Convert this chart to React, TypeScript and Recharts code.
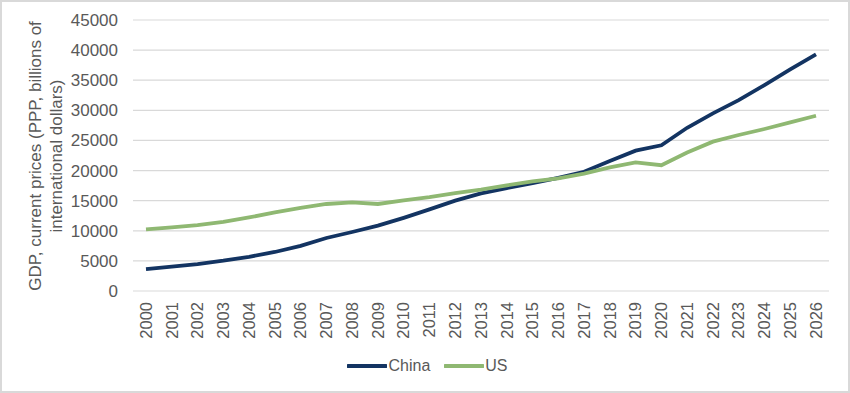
import React from "react";
import { LineChart, Line, XAxis, YAxis, CartesianGrid, Legend } from "recharts";

const years = ["2000","2001","2002","2003","2004","2005","2006","2007","2008","2009","2010","2011","2012","2013","2014","2015","2016","2017","2018","2019","2020","2021","2022","2023","2024","2025","2026"];
const china = [3650,4050,4480,5030,5680,6480,7500,8800,9800,10850,12150,13550,15000,16200,17100,17900,18800,19800,21600,23300,24200,27100,29500,31700,34200,36800,39300];
const us = [10250,10580,10940,11460,12220,13040,13820,14450,14710,14450,15050,15600,16250,16850,17550,18200,18700,19500,20530,21370,20890,22990,24800,25900,26900,28000,29100];
const yTicks = [0,5000,10000,15000,20000,25000,30000,35000,40000,45000];

const data = years.map((y, i) => ({ year: y, China: china[i], US: us[i] }));

const FONT = "'Liberation Sans', Arial, sans-serif";
const GRAY = "#595959";

const XTick = (props: any) => {
  const { x, y, payload } = props;
  return (
    <text x={x} y={y} transform={`rotate(-90, ${x}, ${y})`} textAnchor="end" dy="0.35em" fill={GRAY} fontSize={16.5} fontFamily={FONT}>
      {payload.value}
    </text>
  );
};

const YLabel = () => (
  <text transform="rotate(-90)" textAnchor="middle" fill={GRAY} fontSize={17} fontFamily={FONT}>
    <tspan x={-156} y={41}>GDP, current prices (PPP, billions of</tspan>
    <tspan x={-156} y={62}>international dollars)</tspan>
  </text>
);

const LegendContent = (props: any) => {
  const items = props.payload || [];
  return (
    <div style={{ display: "flex", justifyContent: "center", alignItems: "center", fontFamily: FONT, fontSize: 16, color: GRAY, height: 24, paddingLeft: 26 }}>
      {items.map((it: any, i: number) => (
        <div key={i} style={{ display: "flex", alignItems: "center", marginRight: i === 0 ? 14 : 0 }}>
          <svg width={40} height={8} style={{ display: "block" }}>
            <line x1={1} y1={4} x2={39} y2={4} stroke={it.color} strokeWidth={4} strokeLinecap="round" />
          </svg>
          <span style={{ marginLeft: 1 }}>{it.value}</span>
        </div>
      ))}
    </div>
  );
};

export default function App() {
  return (
    <div style={{ position: "fixed", top: 0, left: 0, width: 850, height: 393, boxSizing: "border-box", border: "2px solid #d9d9d9", background: "#fff" }}>
      <div style={{ position: "absolute", top: -2, left: -2 }}>
        <LineChart width={850} height={393} data={data} margin={{ top: 20, right: 21, left: 0, bottom: 15 }}>
          <CartesianGrid vertical={false} stroke="#d9d9d9" strokeWidth={1.2} />
          <XAxis dataKey="year" axisLine={false} tickLine={false} tick={<XTick />} tickMargin={5} height={63} interval={0} padding={{ left: 13, right: 13 }} />
          <YAxis width={133} domain={[0, 45000]} ticks={yTicks} axisLine={false} tickLine={false} tickMargin={9} tick={{ fill: GRAY, fontSize: 17, fontFamily: FONT }} label={<YLabel />} />
          <Legend verticalAlign="bottom" height={24} content={<LegendContent />} />
          <Line type="linear" dataKey="China" name="China" stroke="#133462" strokeWidth={3.8} dot={false} isAnimationActive={false} />
          <Line type="linear" dataKey="US" name="US" stroke="#8fb872" strokeWidth={3.8} dot={false} isAnimationActive={false} />
        </LineChart>
      </div>
    </div>
  );
}
